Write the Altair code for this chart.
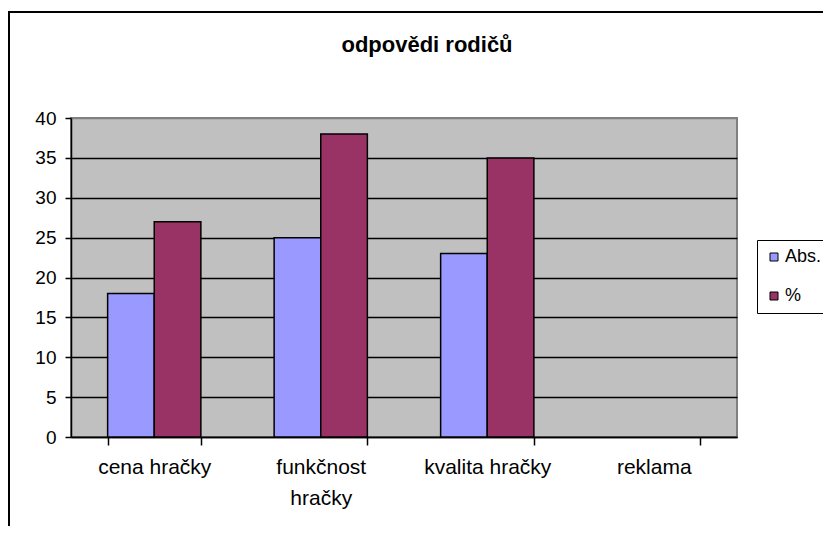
import altair as alt
import pandas as pd

categories = ["cena hračky", "funkčnost hračky", "kvalita hračky", "reklama"]
series_names = ["Abs.", "%"]
abs_values = [18, 25, 23, None]
pct_values = [27, 38, 35, None]
series_colors = ["#9999FF", "#993366"]

rows = []
for c, a, p in zip(categories, abs_values, pct_values):
    rows.append({"kategorie": c, "serie": series_names[0], "hodnota": a})
    rows.append({"kategorie": c, "serie": series_names[1], "hodnota": p})
df = pd.DataFrame(rows)

FONT = "Liberation Sans"

bars = alt.Chart(df).mark_bar(stroke="black", strokeWidth=1.5).encode(
    x=alt.X(
        "kategorie:N",
        sort=categories,
        title=None,
        scale=alt.Scale(domain=categories, paddingInner=0.44, paddingOuter=0.22),
        axis=alt.Axis(
            labelAngle=0,
            labelFont=FONT,
            labelFontSize=21,
            labelColor="black",
            labelPadding=11,
            labelLimit=0,
            labelLineHeight=31,
            labelBaseline="top",
            labelExpr="datum.label == 'funkčnost hračky' ? ['funkčnost', 'hračky'] : datum.label",
            tickBand="extent",
            tickSize=8,
            tickColor="black",
            tickWidth=1.5,
            domainColor="black",
            domainWidth=1.5,
            grid=False,
        ),
    ),
    xOffset=alt.XOffset("serie:N", sort=series_names, scale=alt.Scale(domain=series_names)),
    y=alt.Y(
        "hodnota:Q",
        title=None,
        scale=alt.Scale(domain=[0, 40], nice=False),
        axis=alt.Axis(
            values=[0, 5, 10, 15, 20, 25, 30, 35, 40],
            labelFont=FONT,
            labelFontSize=19,
            labelColor="black",
            labelPadding=9,
            tickSize=6,
            tickColor="black",
            tickWidth=1.5,
            domainColor="black",
            domainWidth=1.5,
            grid=True,
            gridColor={"condition": {"test": "datum.value == 40", "value": "#808080"}, "value": "black"},
            gridWidth=1.5,
        ),
    ),
    color=alt.Color(
        "serie:N",
        sort=series_names,
        scale=alt.Scale(domain=series_names, range=series_colors),
        legend=alt.Legend(
            title=None,
            orient="none",
            legendX=686,
            legendY=122,
            strokeColor="black",
            fillColor="white",
            padding=8,
            symbolType="square",
            symbolSize=64,
            symbolStrokeColor="black",
            symbolStrokeWidth=1,
            labelFont=FONT,
            labelFontSize=18,
            labelColor="black",
            labelOffset=2,
            rowPadding=21,
        ),
    ),
)

border = alt.Chart(alt.Data(values=[{"a": 1}])).mark_rect(
    fillOpacity=0, stroke="black", strokeWidth=2
).encode(
    x=alt.value(-62), x2=alt.value(900), y=alt.value(-106), y2=alt.value(700)
)

chart = alt.layer(bars, border).properties(
    width=666,
    height=319,
    autosize=alt.AutoSizeParams(type="none"),
    padding={"left": 63, "top": 110, "right": 86, "bottom": 89},
    title=alt.TitleParams(
        "odpovědi rodičů",
        font=FONT,
        fontSize=22,
        fontWeight="bold",
        color="black",
        anchor="middle",
        baseline="bottom",
        offset=-68,
        dx=23,
    ),
).configure(background="white").configure_view(
    fill="#C0C0C0", stroke="#808080", strokeWidth=2
)

chart.save("out.html", embed_options={"renderer": "svg", "actions": False})
